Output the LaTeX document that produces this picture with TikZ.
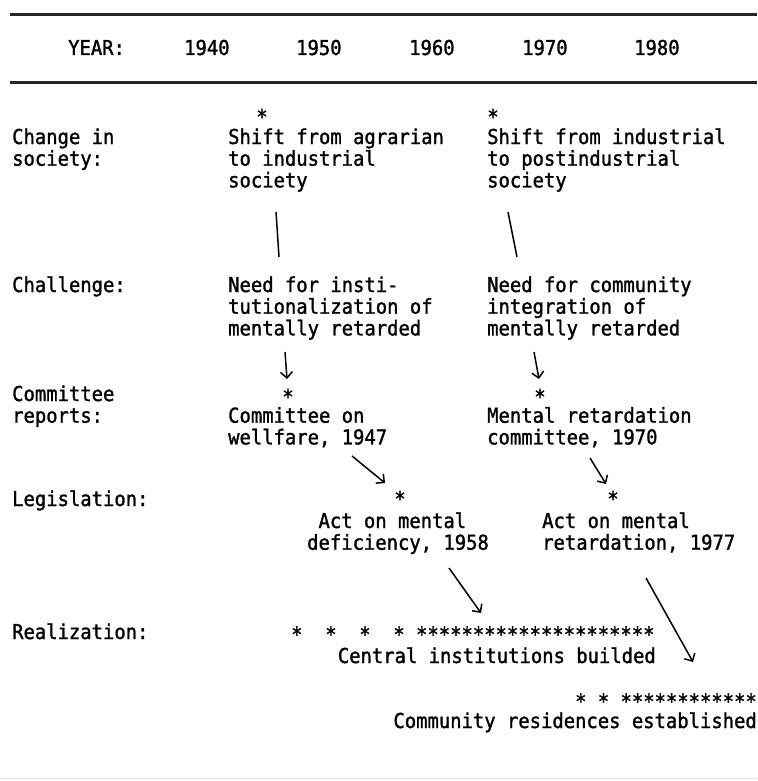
\documentclass[tikz,border=0pt]{standalone}
\usepackage{fontspec}
\newfontfamily\tw[FakeStretch=0.92,FakeBold=1.4]{DejaVu Sans Mono}
\usetikzlibrary{arrows.meta}
\newcommand{\astglyph}{\raisebox{0pt}[0.78em][-0.36em]{*}}
\begin{document}
\begin{tikzpicture}[x=1pt,y=-1pt,
  txt/.style={font=\tw\fontsize{20.5}{21.7}\selectfont, inner sep=0pt, align=left, anchor=base west},
  one/.style={font=\tw\fontsize{20.5}{21.7}\selectfont, inner sep=0pt},
  ast/.style={font=\tw\fontsize{20.5}{21.7}\selectfont, inner sep=0pt, anchor=center},
  rulel/.style={line width=3pt, black!85},
  link/.style={line width=1.5pt},
  arr/.style={line width=1.5pt, -{Straight Barb[length=6pt,width=12pt,line width=1.5pt]}}]
\useasboundingbox (0,0) rectangle (757,781);
% rules
\coordinate (r1a) at (10,15); \coordinate (r1b) at (757,15);
\coordinate (r2a) at (10,83); \coordinate (r2b) at (757,83);
\coordinate (r3a) at (0,778); \coordinate (r3b) at (757,778);
\draw[rulel] (r1a) -- (r1b);
\draw[rulel] (r2a) -- (r2b);
\draw[black!10, line width=1pt] (r3a) -- (r3b);
% year row (baselines)
\node[txt] (year) at (68,55) {YEAR:};
\node[txt] (y40) at (184,55) {1940};
\node[txt] (y50) at (296,55) {1950};
\node[txt] (y60) at (409,55) {1960};
\node[txt] (y70) at (522,55) {1970};
\node[txt] (y80) at (634,55) {1980};
% row labels (anchor = baseline of last line)
\node[txt] (lchange) at (12,165.7) {Change in\\society:};
\node[txt] (lchall) at (12,292) {Challenge:};
\node[txt] (lcomm) at (12,422.7) {Committee\\reports:};
\node[txt] (llegis) at (12,506) {Legislation:};
\node[txt] (lreal) at (12,639) {Realization:};
% column A
\node[ast] (s1) at (262,116) {\astglyph};
\node[txt] (shiftA) at (228,187.4) {Shift from agrarian\\to industrial\\society};
\node[txt] (needA) at (228,335.4) {Need for insti-\\tutionalization of\\mentally retarded};
\node[ast] (s3) at (288,396) {\astglyph};
\node[txt] (commA) at (228,444.4) {Committee on\\wellfare, 1947};
\node[ast] (s5) at (400,498) {\astglyph};
\node[txt] (actA) at (307,549.7) {\phantom{A}Act on mental\\deficiency, 1958};
\node[one, anchor=west] (starsA) at (291,634) {*~~*~~*~~*~*********************};
\node[one, anchor=base east] (central) at (656,663) {Central institutions builded};
% column B
\node[ast] (s2) at (493,116) {\astglyph};
\node[txt] (shiftB) at (487,187.4) {Shift from industrial\\to postindustrial\\society};
\node[txt] (needB) at (487,335.4) {Need for community\\integration of\\mentally retarded};
\node[ast] (s4) at (540,396) {\astglyph};
\node[txt] (commB) at (487,444.4) {Mental retardation\\committee, 1970};
\node[ast] (s6) at (613,498) {\astglyph};
\node[txt] (actB) at (542,549.7) {Act on mental\\retardation, 1977};
\node[one, anchor=east] (starsB) at (757,701) {*~*~************};
\node[one, anchor=base east] (commres) at (757,728) {Community residences established};
% connectors
\coordinate (la1) at (276,212); \coordinate (la2) at (279,257);
\coordinate (lb1) at (508,212); \coordinate (lb2) at (517,257);
\coordinate (a2s) at (285,352); \coordinate (a2e) at (287,379);
\coordinate (b2s) at (534,352); \coordinate (b2e) at (539,379);
\coordinate (a3s) at (352,456); \coordinate (a3e) at (385,483);
\coordinate (b3s) at (590,458); \coordinate (b3e) at (606,484);
\coordinate (a4s) at (449,568); \coordinate (a4e) at (481,613);
\coordinate (b4s) at (646,578); \coordinate (b4e) at (693,662);
\draw[link] (la1) -- (la2);
\draw[link] (lb1) -- (lb2);
\draw[arr] (a2s) -- (a2e);
\draw[arr] (b2s) -- (b2e);
\draw[arr] (a3s) -- (a3e);
\draw[arr] (b3s) -- (b3e);
\draw[arr] (a4s) -- (a4e);
\draw[arr] (b4s) -- (b4e);
\end{tikzpicture}
\end{document}
